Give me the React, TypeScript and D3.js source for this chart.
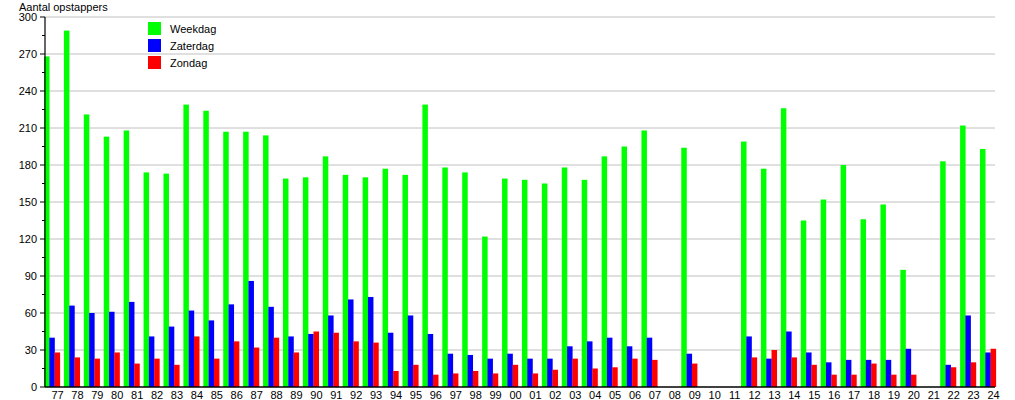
import React from "react";
import * as d3 from "d3";

const categories = ["77","78","79","80","81","82","83","84","85","86","87","88","89","90","91","92","93","94","95","96","97","98","99","00","01","02","03","04","05","06","07","08","09","10","11","12","13","14","15","16","17","18","19","20","21","22","23","24"];
const weekdag = [268,289,221,203,208,174,173,229,224,207,207,204,169,170,187,172,170,177,172,229,178,174,122,169,168,165,178,168,187,195,208,0,194,0,0,199,177,226,135,152,180,136,148,95,0,183,212,193];
const zaterdag = [40,66,60,61,69,41,49,62,54,67,86,65,41,43,58,71,73,44,58,43,27,26,23,27,23,23,33,37,40,33,40,0,27,0,0,41,23,45,28,20,22,22,22,31,0,18,58,28];
const zondag = [28,24,23,28,19,23,18,41,23,37,32,40,28,45,44,37,36,13,18,10,11,13,11,18,11,14,23,15,16,23,22,0,19,0,0,24,30,24,18,10,10,19,10,10,0,16,20,31];
const yTicks = [0,30,60,90,120,150,180,210,240,270,300];
const seriesNames = ["Weekdag","Zaterdag","Zondag"];
const colors = ["#00ff00","#0000ff","#ff0000"];

export default function App() {
  const W = 1015, H = 400;
  const left = 45, right = 995, top = 17, bottom = 387;
  const x = d3.scaleBand<string>().domain(categories).range([44, 44 + 48 * 19.915]).padding(0);
  const y = d3.scaleLinear().domain([0, 300]).range([bottom, top]);
  const font = "'Liberation Sans', Arial, sans-serif";
  const series = [weekdag, zaterdag, zondag];
  const offsets = [0, 5.3, 10.6];
  const bw = 5.5;
  const minor = d3.range(15, 300, 30);
  return (
    <svg width={W} height={H} style={{ position: "absolute", left: 0, top: 0, background: "#fff" }} fontFamily={font}>
      <rect x={0} y={0} width={W} height={H} fill="#fff" />
      {yTicks.filter(t => t > 0).map(t => (
        <line key={"g" + t} x1={left} x2={right} y1={y(t)} y2={y(t)} stroke="#c0c0c0" strokeWidth={1} />
      ))}
      {series.map((vals, si) =>
        vals.map((v, i) =>
          v > 0 ? (
            <rect key={si + "-" + i} x={(x(categories[i]) as number) + offsets[si]} y={y(v)} width={bw} height={y(0) - y(v)} fill={colors[si]} />
          ) : null
        )
      )}
      <line x1={left} x2={left} y1={top} y2={bottom} stroke="#000" strokeWidth={1.2} />
      <line x1={left} x2={right} y1={bottom} y2={bottom} stroke="#000" strokeWidth={1.5} />
      {yTicks.map(t => (
        <g key={"t" + t}>
          <line x1={left - 5} x2={left} y1={y(t)} y2={y(t)} stroke="#000" />
          <text x={37} y={y(t) + 4} fontSize={11} textAnchor="end" fill="#000">{t}</text>
        </g>
      ))}
      {minor.map(t => (
        <line key={"m" + t} x1={left - 3} x2={left} y1={y(t)} y2={y(t)} stroke="#000" />
      ))}
      {categories.map(c => (
        <text key={"x" + c} x={(x(c) as number) + 13.5} y={399} fontSize={11} textAnchor="middle" fill="#000">{c}</text>
      ))}
      <text x={19} y={11} fontSize={11} fill="#000">Aantal opstappers</text>
      {seriesNames.map((n, i) => (
        <g key={n}>
          <rect x={148} y={22 + i * 17} width={13} height={13} fill={colors[i]} />
          <text x={170} y={33 + i * 17} fontSize={11} fill="#000">{n}</text>
        </g>
      ))}
    </svg>
  );
}
